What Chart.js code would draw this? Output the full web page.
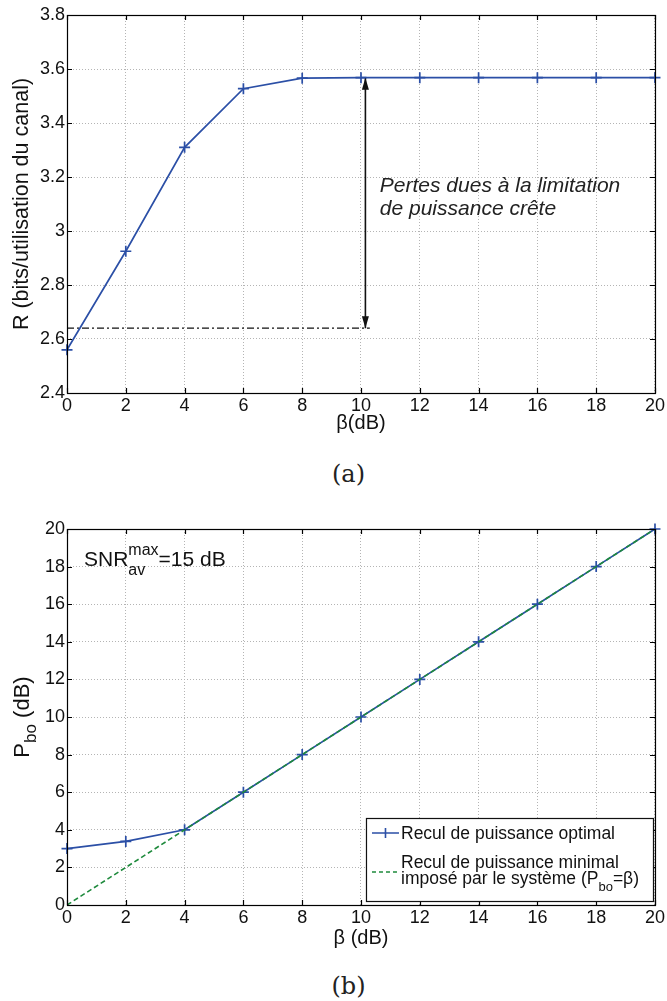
<!DOCTYPE html>
<html>
<head>
<meta charset="utf-8">
<script src="https://cdn.jsdelivr.net/npm/chart.js@4"></script>
<style>
  body { margin: 0; background: #fff; width: 667px; height: 1001px; position: relative; overflow: hidden; }
  .box { position: absolute; left: 0; width: 667px; }
  .cap { position: absolute; left: 0; width: 697px; text-align: center; font-family: "DejaVu Serif", "Liberation Serif", serif; font-size: 24px; line-height: 28px; color: #222; }
</style>
</head>
<body>
<div class="box" style="top:0;height:435px"><canvas id="rateChart" width="667" height="435"></canvas></div>
<div class="cap" style="top:460px">(a)</div>
<div class="box" style="top:510px;height:440px"><canvas id="backoffChart" width="667" height="440"></canvas></div>
<div class="cap" style="top:972px">(b)</div>
<script>
// beta (dB) on x for both panels
const betaDb = [0, 2, 4, 6, 8, 10, 12, 14, 16, 18, 20];
// (a) rate in bits per channel use
const rateBits = [2.56, 2.925, 3.31, 3.527, 3.566, 3.568, 3.568, 3.568, 3.568, 3.568, 3.568];
const lossLevel = 2.64;
const arrowBeta = 10.15;
// (b) back-off
const backoffOptimal = [3, 3.38, 4, 6, 8, 10, 12, 14, 16, 18, 20];
const backoffMinimal = [0, 2, 4, 6, 8, 10, 12, 14, 16, 18, 20];

const blue = "#2b4fa6";
const green = "#1e8a3c";
const fam = "'Liberation Sans', Arial, sans-serif";
const tickFont = { family: fam, size: 18 };

function points(xs, ys) {
  return xs.map((x, i) => ({ x: x, y: ys[i] }));
}

// box around the plot + inward tick marks (matlab look)
const frame = {
  id: "frame",
  afterDraw(chart) {
    const a = chart.chartArea;
    const ctx = chart.ctx;
    ctx.save();
    ctx.strokeStyle = "#000";
    ctx.lineWidth = 1.2;
    ctx.strokeRect(a.left + 0.5, a.top + 0.5, a.right - a.left, a.bottom - a.top);
    ctx.beginPath();
    chart.scales.x.ticks.forEach(t => {
      const px = Math.round(chart.scales.x.getPixelForValue(t.value)) + 0.5;
      ctx.moveTo(px, a.bottom); ctx.lineTo(px, a.bottom - 5);
      ctx.moveTo(px, a.top); ctx.lineTo(px, a.top + 5);
    });
    chart.scales.y.ticks.forEach(t => {
      const py = Math.round(chart.scales.y.getPixelForValue(t.value)) + 0.5;
      ctx.moveTo(a.left, py); ctx.lineTo(a.left + 5, py);
      ctx.moveTo(a.right, py); ctx.lineTo(a.right - 5, py);
    });
    ctx.stroke();
    ctx.restore();
  }
};

function axisOpts(min, max, step, fmt) {
  return {
    type: "linear", min: min, max: max,
    ticks: { stepSize: step, color: "#111", font: tickFont, callback: fmt, maxRotation: 0, padding: 2 },
    grid: { color: "#b4b4b4", lineWidth: 1, drawTicks: false },
    border: { display: false, dash: [1, 2] }
  };
}

// ---------- (a) ----------
const arrowHeads = {
  id: "arrowHeads",
  afterDatasetsDraw(chart) {
    const x = chart.scales.x.getPixelForValue(arrowBeta);
    const yTop = chart.scales.y.getPixelForValue(rateBits[rateBits.length - 1]);
    const yBot = chart.scales.y.getPixelForValue(lossLevel);
    const ctx = chart.ctx;
    ctx.save();
    ctx.fillStyle = "#111";
    ctx.beginPath();
    ctx.moveTo(x, yTop); ctx.lineTo(x - 3.5, yTop + 12); ctx.lineTo(x + 3.5, yTop + 12); ctx.closePath();
    ctx.moveTo(x, yBot); ctx.lineTo(x - 3.5, yBot - 12); ctx.lineTo(x + 3.5, yBot - 12); ctx.closePath();
    ctx.fill();
    ctx.font = "italic 21px " + fam;
    ctx.fillStyle = "#222";
    ctx.textBaseline = "alphabetic";
    const tx = chart.scales.x.getPixelForValue(10.64);
    ctx.fillText("Pertes dues à la limitation", tx, chart.scales.y.getPixelForValue(3.144));
    ctx.fillText("de puissance crête", tx, chart.scales.y.getPixelForValue(3.059));
    ctx.restore();
  }
};

new Chart(document.getElementById("rateChart"), {
  type: "line",
  data: {
    datasets: [
      {
        data: points(betaDb, rateBits), clip: false,
        borderColor: blue, borderWidth: 1.7,
        pointStyle: "cross", pointRadius: 5.5, pointBorderColor: blue, pointBorderWidth: 1.7
      },
      {
        data: [{ x: 0, y: lossLevel }, { x: 10.3, y: lossLevel }],
        borderColor: "#111", borderWidth: 1.3, borderDash: [7, 3, 2, 3], pointRadius: 0
      },
      {
        data: [{ x: arrowBeta, y: rateBits[rateBits.length - 1] }, { x: arrowBeta, y: lossLevel }],
        borderColor: "#111", borderWidth: 1.6, pointRadius: 0
      }
    ]
  },
  options: {
    responsive: false, animation: false,
    layout: { padding: { top: 15, right: 10, left: 0, bottom: 0 } },
    plugins: { legend: { display: false }, tooltip: { enabled: false } },
    scales: {
      x: Object.assign(axisOpts(0, 20, 2), {
        title: { display: true, text: "β(dB)", color: "#111", font: { family: fam, size: 20 }, padding: { top: 0, bottom: 0 } },
        afterFit: s => { s.height = 42; }
      }),
      y: Object.assign(axisOpts(2.4, 3.8, 0.2, v => +v.toFixed(1)), {
        title: { display: true, text: "R (bits/utilisation du canal)", color: "#111", font: { family: fam, size: 21.5 }, padding: { top: 9, bottom: 0 } },
        afterFit: s => { s.width = 67; }
      })
    }
  },
  plugins: [frame, arrowHeads]
});

// ---------- (b) ----------
function subText(ctx, parts, x, y) {
  // parts: [text, kind] kind: "n" normal, "sub"
  let cx = x;
  parts.forEach(p => {
    const big = ctx.font;
    let dy = 0;
    if (p[1] !== "n") {
      ctx.font = big.replace(/[\d.]+px/, m => Math.round(parseFloat(m) * 0.75) + "px");
      dy = 7;
    }
    ctx.fillText(p[0], cx, y + dy);
    cx += ctx.measureText(p[0]).width;
    ctx.font = big;
  });
  return cx;
}

function partsWidth(ctx, parts) {
  const big = ctx.font;
  let w = 0;
  parts.forEach(p => {
    if (p[1] !== "n") ctx.font = big.replace(/[\d.]+px/, m => Math.round(parseFloat(m) * 0.75) + "px");
    w += ctx.measureText(p[0]).width;
    ctx.font = big;
  });
  return w;
}

const backoffDecor = {
  id: "backoffDecor",
  afterDraw(chart) {
    const a = chart.chartArea;
    const ctx = chart.ctx;
    ctx.save();
    ctx.fillStyle = "#111";
    ctx.textBaseline = "alphabetic";
    // SNR annotation
    const sx = a.left + 17;
    ctx.font = "21px " + fam;
    ctx.fillText("SNR", sx, a.top + 37);
    const w = ctx.measureText("SNR").width;
    ctx.font = "16px " + fam;
    ctx.fillText("max", sx + w, a.top + 26);
    ctx.fillText("av", sx + w, a.top + 46);
    const w2 = ctx.measureText("max").width;
    ctx.font = "21px " + fam;
    ctx.fillText("=15 dB", sx + w + w2, a.top + 37);

    // y title with subscript
    ctx.save();
    ctx.translate(29, (a.top + a.bottom) / 2);
    ctx.rotate(-Math.PI / 2);
    ctx.font = "22px " + fam;
    const yParts = [["P", "n"], ["bo", "sub"], [" (dB)", "n"]];
    subText(ctx, yParts, -partsWidth(ctx, yParts) / 2, 0);
    ctx.restore();

    // legend box
    const lx = a.right - 289, ly = a.bottom - 87, lw = 287, lh = 83;
    ctx.fillStyle = "#fff";
    ctx.fillRect(lx, ly, lw, lh);
    ctx.strokeStyle = "#111";
    ctx.lineWidth = 1.2;
    ctx.strokeRect(lx + 0.5, ly + 0.5, lw, lh);
    ctx.strokeStyle = blue; ctx.lineWidth = 1.6;
    ctx.beginPath();
    ctx.moveTo(lx + 6, ly + 15); ctx.lineTo(lx + 33, ly + 15);
    ctx.moveTo(lx + 19.5, ly + 10); ctx.lineTo(lx + 19.5, ly + 20);
    ctx.stroke();
    ctx.strokeStyle = green; ctx.setLineDash([4, 3]);
    ctx.beginPath();
    ctx.moveTo(lx + 6, ly + 54); ctx.lineTo(lx + 33, ly + 54);
    ctx.stroke();
    ctx.setLineDash([]);
    ctx.fillStyle = "#111";
    ctx.font = "17.5px " + fam;
    ctx.fillText("Recul de puissance optimal", lx + 35, ly + 21);
    ctx.fillText("Recul de puissance minimal", lx + 35, ly + 50);
    subText(ctx, [["imposé par le système (P", "n"], ["bo", "sub"], ["=β)", "n"]], lx + 35, ly + 66);
    ctx.restore();
  }
};

new Chart(document.getElementById("backoffChart"), {
  type: "line",
  data: {
    datasets: [
      {
        data: points(betaDb, backoffMinimal),
        borderColor: green, borderWidth: 1.6, borderDash: [5, 3], pointRadius: 0
      },
      {
        data: points(betaDb, backoffOptimal), clip: false,
        borderColor: blue, borderWidth: 1.7,
        pointStyle: "cross", pointRadius: 5.5, pointBorderColor: blue, pointBorderWidth: 1.7
      }
    ]
  },
  options: {
    responsive: false, animation: false,
    layout: { padding: { top: 19, right: 10, left: 0, bottom: 0 } },
    plugins: { legend: { display: false }, tooltip: { enabled: false } },
    scales: {
      x: Object.assign(axisOpts(0, 20, 2), {
        title: { display: true, text: "β (dB)", color: "#111", font: { family: fam, size: 20 }, padding: { top: 0, bottom: 0 } },
        afterFit: s => { s.height = 45; }
      }),
      y: Object.assign(axisOpts(0, 20, 2), {
        afterFit: s => { s.width = 67; }
      })
    }
  },
  plugins: [frame, backoffDecor]
});
</script>
</body>
</html>
